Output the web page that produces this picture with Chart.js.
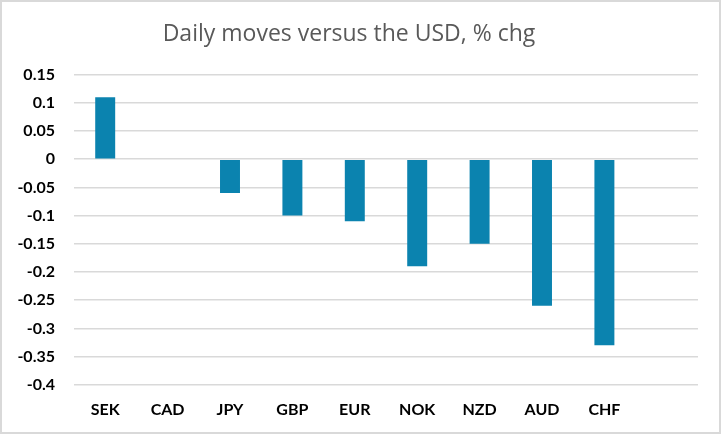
<!DOCTYPE html>
<html>
<head>
<meta charset="utf-8">
<script src="https://cdn.jsdelivr.net/npm/chart.js@4"></script>
<style>
  html, body { margin: 0; padding: 0; background: #ffffff; }
  #wrap { width: 721px; height: 434px; }
</style>
</head>
<body>
<div id="wrap"><canvas id="my-bar-Chart"></canvas></div>
<script>
const currencies = ["SEK", "CAD", "JPY", "GBP", "EUR", "NOK", "NZD", "AUD", "CHF", ""];
const dailyMoves = [0.11, 0, -0.06, -0.1, -0.11, -0.19, -0.15, -0.26, -0.33, null];
const yTicks = [0.15, 0.1, 0.05, 0, -0.05, -0.1, -0.15, -0.2, -0.25, -0.3, -0.35, -0.4];

const frame = {
  id: "frame",
  beforeDraw: (chart) => {
    let ctx = chart.ctx;
    ctx.save();
    ctx.fillStyle = "#ffffff";
    ctx.fillRect(0, 0, chart.width, chart.height);
    ctx.strokeStyle = "#d9d9d9";
    ctx.lineWidth = 2;
    ctx.strokeRect(1, 1, chart.width - 2, chart.height - 2);
    ctx.restore();
  },
};

const drawBarChart = () => {
  let ctx = document.querySelector("#my-bar-Chart");

  let myBarChart = new Chart(ctx, {
    type: "bar",
    data: {
      labels: currencies,
      datasets: [
        {
          label: "Daily moves versus the USD, % chg",
          data: dailyMoves,
          backgroundColor: "#0b83af",
          barPercentage: 0.64,
          categoryPercentage: 0.5,
        },
      ],
    },
    options: {
      responsive: true,
      maintainAspectRatio: false,
      animation: false,
      layout: {
        padding: { top: 0, right: 23, bottom: 0, left: 0 },
      },
      plugins: {
        legend: { display: false },
        tooltip: { enabled: false },
        title: {
          display: true,
          text: "Daily moves versus the USD, % chg",
          color: "#595959",
          font: { family: "'Open Sans', 'Noto Sans', sans-serif", size: 23, weight: "normal" },
          padding: { top: 21, bottom: 26 },
        },
      },
      scales: {
        x: {
          grid: { display: false, drawTicks: false },
          border: { display: false },
          ticks: {
            color: "#000000",
            padding: 15,
            maxRotation: 0,
            autoSkip: false,
            font: { family: "Lato, 'Noto Sans', sans-serif", size: 16, weight: "bold" },
          },
        },
        y: {
          min: -0.4,
          max: 0.15,
          afterFit: (scale) => {
            scale.width = 74;
          },
          afterBuildTicks: (scale) => {
            scale.ticks = yTicks.map((v) => ({ value: v }));
          },
          grid: { color: "#d9d9d9", lineWidth: 1.5, drawTicks: false },
          border: { display: false },
          ticks: {
            color: "#000000",
            padding: 19,
            font: { family: "Lato, 'Noto Sans', sans-serif", size: 16, weight: "bold" },
            callback: (v) => String(Math.round(v * 100) / 100),
          },
        },
      },
    },
    plugins: [frame],
  });
};

drawBarChart();
</script>
</body>
</html>
